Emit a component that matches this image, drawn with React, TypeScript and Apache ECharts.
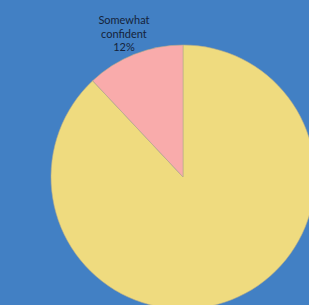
import React, { useEffect, useRef } from "react";
import * as echarts from "echarts";

const categories = ["Very confident", "Somewhat confident"];
const values = [88, 12];
const colors = ["#efdb7f", "#f9abab"];
const showLabel = [false, true];

export default function App() {
  const ref = useRef<HTMLDivElement>(null);
  useEffect(() => {
    document.body.style.margin = "0";
    const chart = echarts.init(ref.current!, null, { renderer: "svg" });
    chart.setOption({
      animation: false,
      backgroundColor: "#4280c4",
      series: [
        {
          type: "pie",
          center: [183, 177],
          radius: 132,
          startAngle: 90,
          clockwise: true,
          avoidLabelOverlap: false,
          data: categories.map((c, i) => ({
            name: c,
            value: values[i],
            itemStyle: { color: colors[i] },
            label: { show: showLabel[i] },
          })),
          itemStyle: { borderColor: "#b5ab8a", borderWidth: 0.6 },
          label: {
            position: "outside",
            alignTo: "none",
            formatter: (p: any) => p.name.replace(" ", "\n") + "\n" + p.value + "%",
            fontFamily: "Lato",
            fontSize: 11,
            lineHeight: 13.5,
            color: "#15233a",
          },
          labelLine: { show: false, length: 23, length2: 0 },
          labelLayout: () => ({ align: "center", dx: 3, dy: 0.5 }),
        },
      ],
    });
    return () => chart.dispose();
  }, []);
  return <div ref={ref} style={{ width: 309, height: 305 }} />;
}
